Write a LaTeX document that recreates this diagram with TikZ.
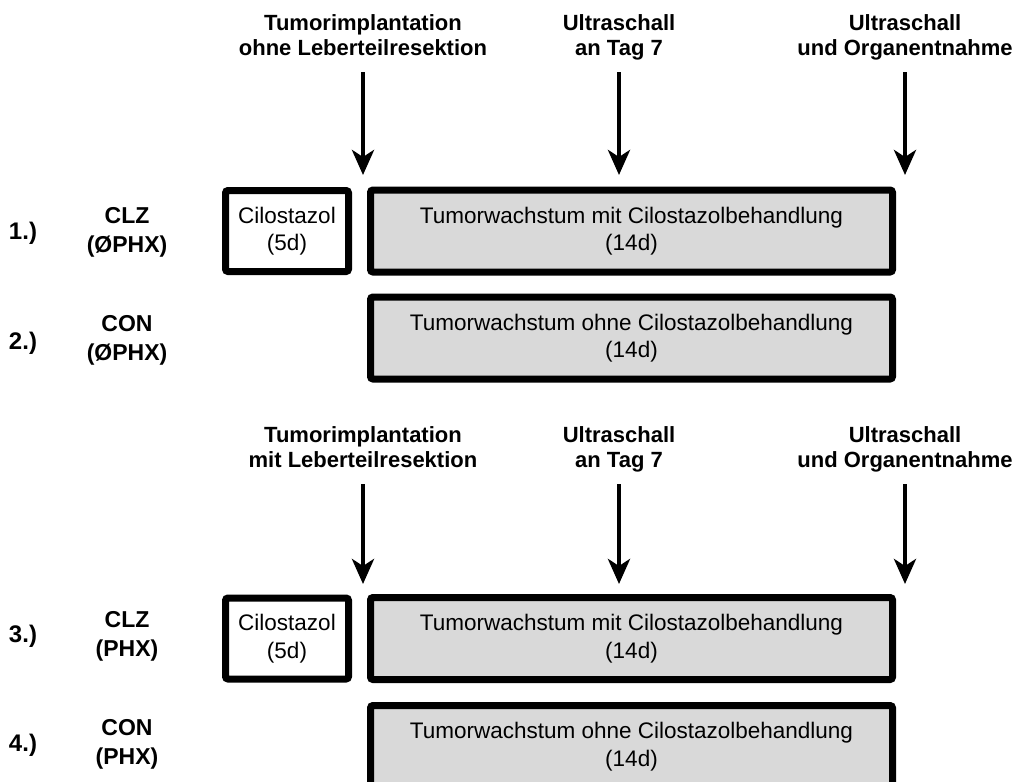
\documentclass[tikz,border=0pt]{standalone}
\usepackage{fontspec}
\setmainfont{Liberation Sans}
\usetikzlibrary{positioning, arrows.meta}

\begin{document}
\begin{tikzpicture}[x=1pt, y=-1pt, >={Stealth[width=22pt, length=25pt, inset=7pt]},
    hdr/.style={align=center, inner sep=0pt, text depth=0pt, anchor=south,
        font=\bfseries\fontsize{22}{25}\selectfont},
    grp/.style={align=center, inner sep=0pt, font=\bfseries\fontsize{23}{29}\selectfont},
    num/.style={inner sep=0pt, font=\bfseries\fontsize{24}{28}\selectfont},
    cbox/.style={draw, line width=7pt, rounded corners=2.5pt, inner sep=0pt, align=center,
        minimum width=123pt, minimum height=81pt, font=\fontsize{22.5}{27.5}\selectfont},
    tbox/.style={cbox, fill=black!15, minimum width=522pt, minimum height=82pt},
    arw/.style={->, line width=4.5pt, shorten <=16pt}]

    \useasboundingbox (0,0) rectangle (1021,782);

    % ohne Leberteilresektion
    \node[hdr] (h1) at (363,56) {Tumorimplantation\\ohne Leberteilresektion};
    \node[hdr] (h2) at (619,56) {Ultraschall\\an Tag 7};
    \node[hdr] (h3) at (905,56) {Ultraschall\\und Organentnahme};
    \coordinate (t1) at (363,175);
    \coordinate (t2) at (619,175);
    \coordinate (t3) at (905,175);

    \node[tbox] (b1) at (631.5,231) {Tumorwachstum mit Cilostazolbehandlung\\(14d)};
    \node[cbox] (c1) [left=15pt of b1] {Cilostazol\\(5d)};
    \node[tbox] (b2) [below=18pt of b1] {Tumorwachstum ohne Cilostazolbehandlung\\(14d)};

    \node[num] (n1) at (23,233) {1.)};
    \node[grp] (g1) at (127,232) {CLZ\\(ØPHX)};
    \node[num] (n2) at (23,343) {2.)};
    \node[grp] (g2) at (127,340) {CON\\(ØPHX)};

    % mit Leberteilresektion
    \node[hdr] (h4) at (363,468) {Tumorimplantation\\mit Leberteilresektion};
    \node[hdr] (h5) at (619,468) {Ultraschall\\an Tag 7};
    \node[hdr] (h6) at (905,468) {Ultraschall\\und Organentnahme};
    \coordinate (t4) at (363,584);
    \coordinate (t5) at (619,584);
    \coordinate (t6) at (905,584);

    \node[tbox] (b3) at (631.5,638.5) {Tumorwachstum mit Cilostazolbehandlung\\(14d)};
    \node[cbox] (c3) [left=15pt of b3] {Cilostazol\\(5d)};
    \node[tbox] (b4) [below=19pt of b3] {Tumorwachstum ohne Cilostazolbehandlung\\(14d)};

    \node[num] (n3) at (23,636) {3.)};
    \node[grp] (g3) at (127,636) {CLZ\\(PHX)};
    \node[num] (n4) at (23,745) {4.)};
    \node[grp] (g4) at (127,744) {CON\\(PHX)};

    \path[arw]
    (h1) edge (t1)
    (h2) edge (t2)
    (h3) edge (t3)
    (h4) edge (t4)
    (h5) edge (t5)
    (h6) edge (t6);
\end{tikzpicture}
\end{document}
